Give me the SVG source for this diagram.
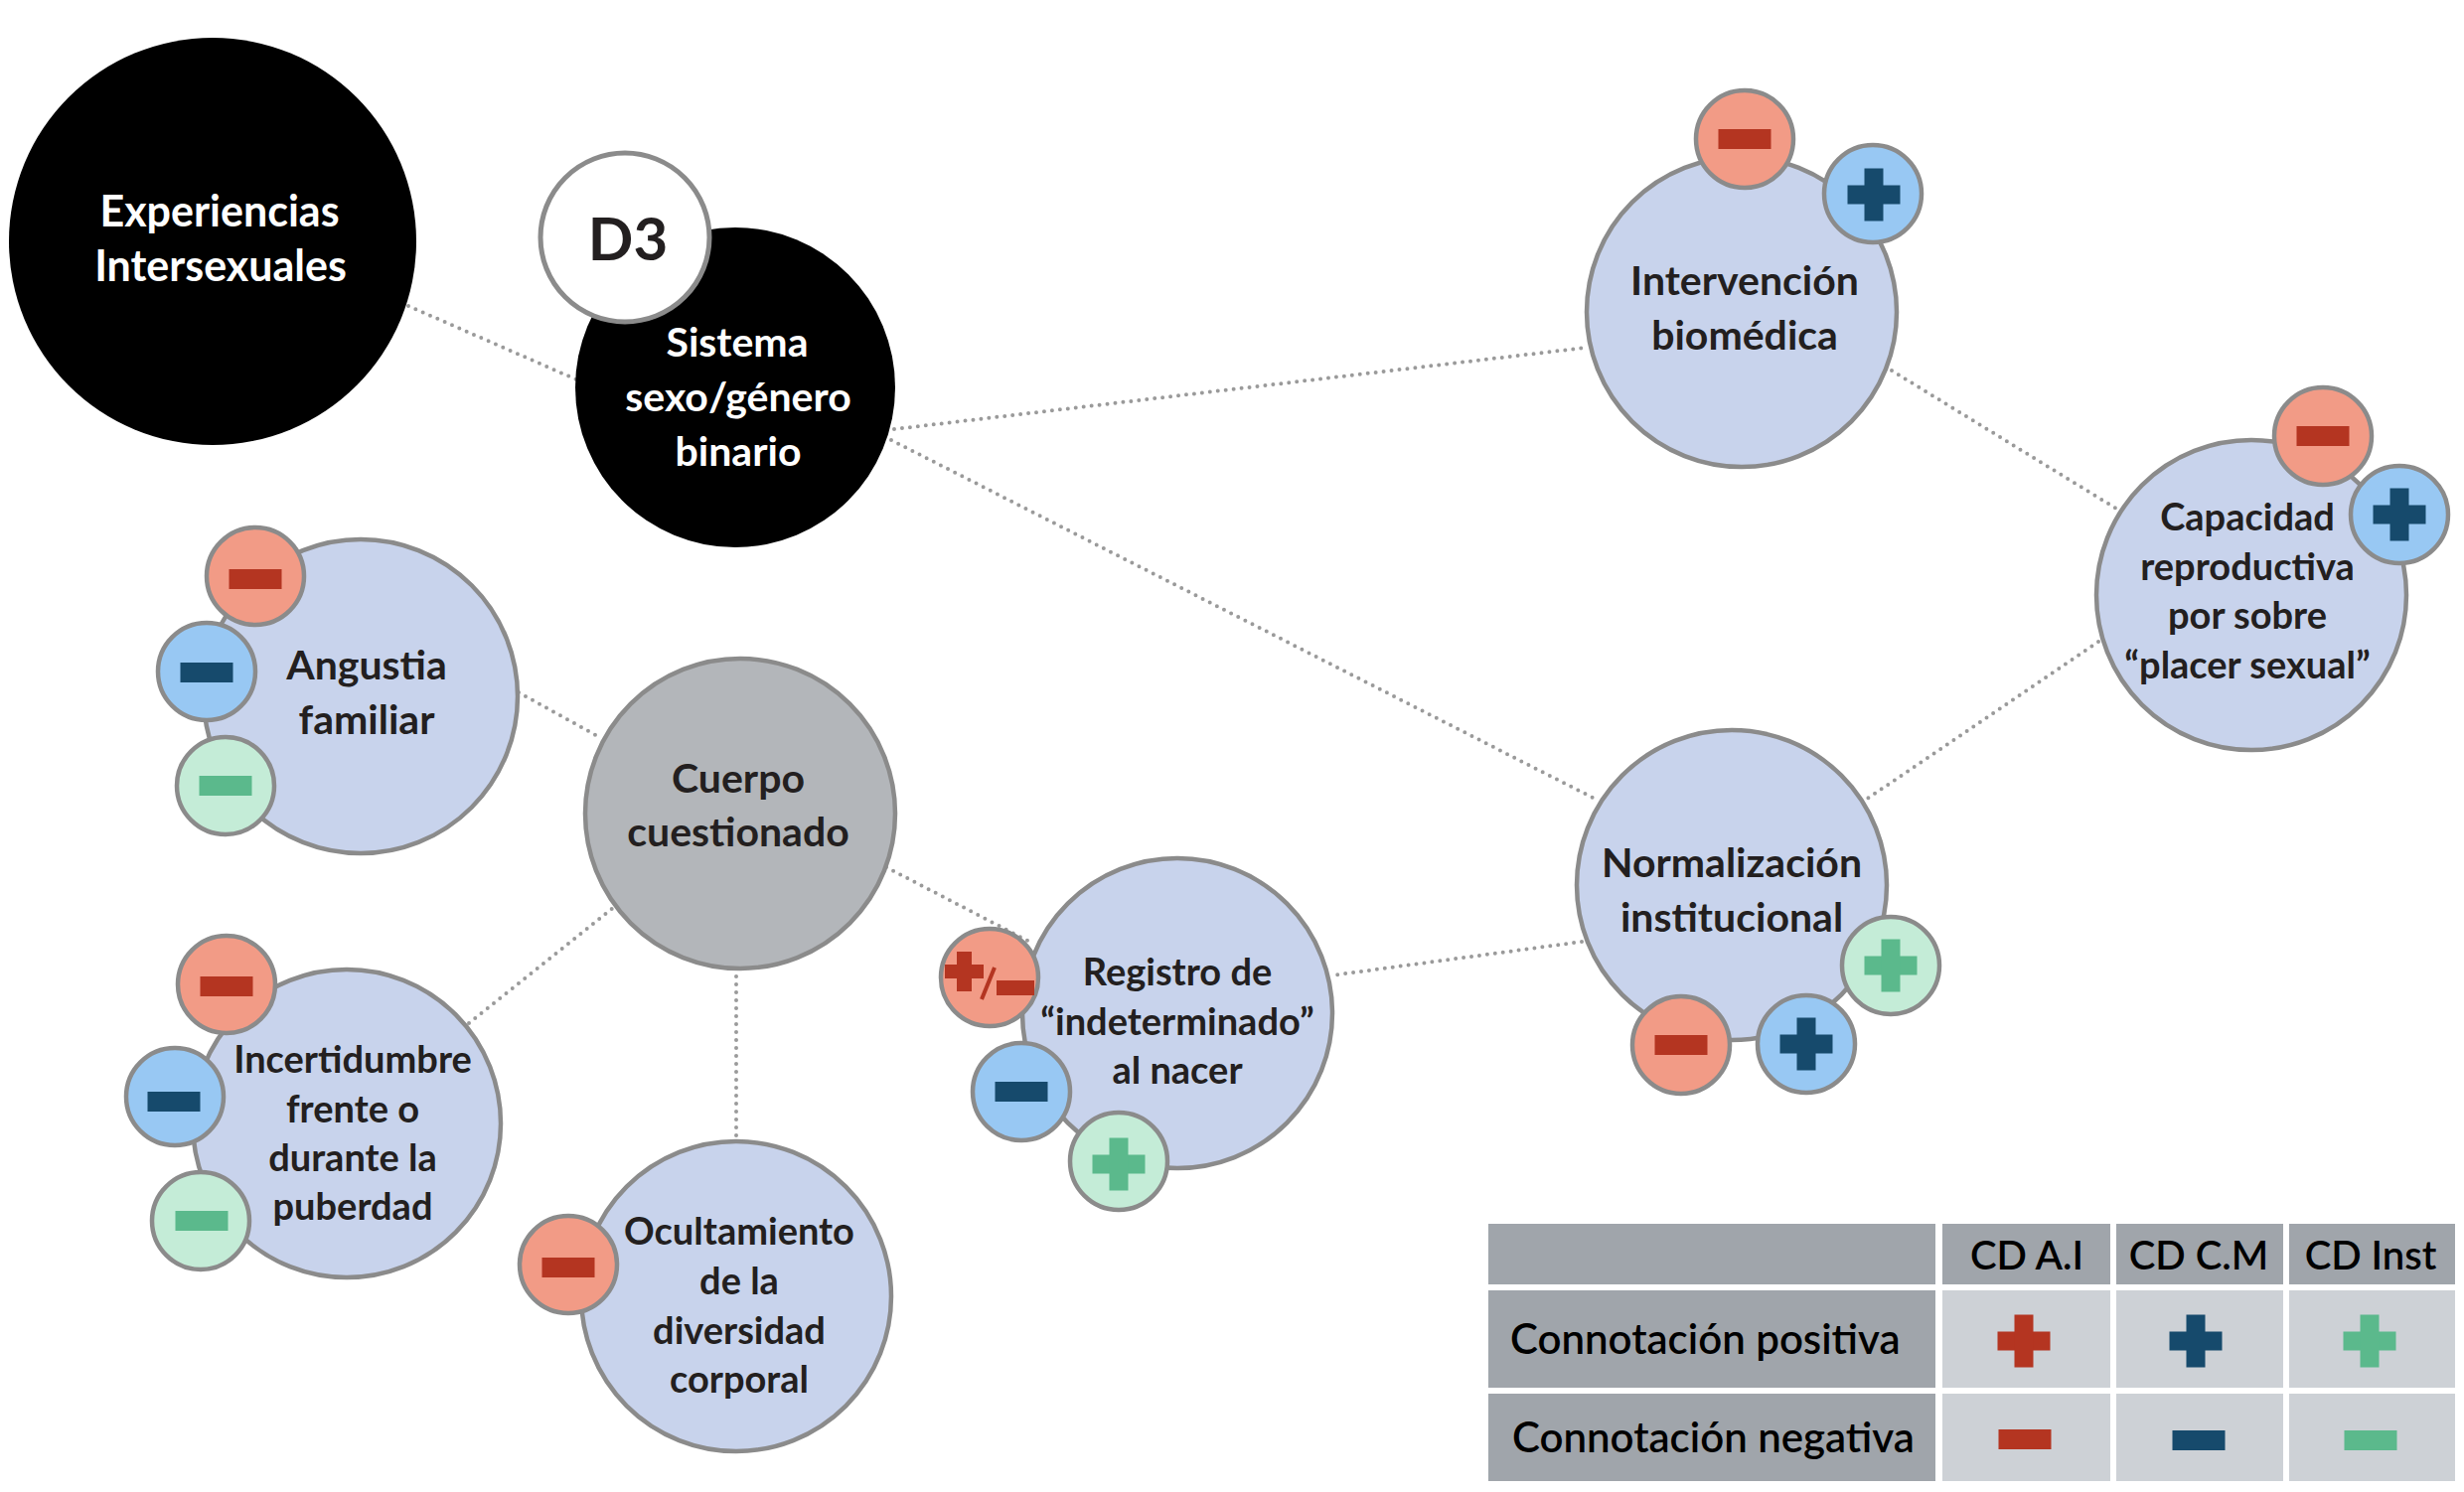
<svg xmlns="http://www.w3.org/2000/svg" width="2480" height="1502" viewBox="0 0 2480 1502">
<style>
.main{fill:#c8d3ec;stroke:#8b8b8b;stroke-width:4.5}
.gray{fill:#b3b6ba;stroke:#8b8b8b;stroke-width:4.5}
.blk{fill:#000}
.d3{fill:#fff;stroke:#8b8b8b;stroke-width:5}
.br{fill:#f29b86;stroke:#8b8b8b;stroke-width:4.5}
.bb{fill:#98c8f3;stroke:#8b8b8b;stroke-width:4.5}
.bg{fill:#c4ecd7;stroke:#8b8b8b;stroke-width:4.5}
.ir{fill:#b43521}
.ib{fill:#164a6c}
.ig{fill:#5bb98c}
.t{font-family:Lato,"Noto Sans",sans-serif;font-weight:700;fill:#231f20;text-anchor:middle}
.w{fill:#fff}
.s41{font-size:41px}
.s38{font-size:38px}
.lg{font-family:Lato,"Noto Sans",sans-serif;font-weight:600;font-size:42px;fill:#000}
.hd{fill:#a0a5ab}
.cl{fill:#cdd1d6}
.con line{stroke:#9a9a9a;stroke-width:4;stroke-dasharray:0 8;stroke-linecap:round;fill:none}
</style>
<defs>
<g id="minus"><rect x="-26.5" y="-10" width="53" height="20"/></g>
<g id="plus"><rect x="-26.5" y="-9.5" width="53" height="19"/><rect x="-9.5" y="-26.5" width="19" height="53"/></g>
</defs>
<rect width="2480" height="1502" fill="#fff"/>
<g id="connectors" class="con">
<line x1="411" y1="308" x2="580" y2="382"/>
<line x1="900" y1="432" x2="1596" y2="350"/>
<line x1="897" y1="443" x2="1607" y2="805"/>
<line x1="1904" y1="373" x2="2130" y2="512"/>
<line x1="2112" y1="646" x2="1878" y2="805"/>
<line x1="1592" y1="948" x2="1340" y2="982"/>
<line x1="892" y1="873" x2="1040" y2="950"/>
<line x1="522" y1="697" x2="605" y2="743"/>
<line x1="472" y1="1030" x2="617" y2="914"/>
<line x1="741" y1="975" x2="741" y2="1150"/>
</g>
<g id="experiencias">
<circle class="blk" cx="214" cy="243" r="205"/>
<text class="t w" font-size="43" x="221" y="228">Experiencias</text>
<text class="t w" font-size="43" x="222" y="283">Intersexuales</text>
</g>
<g id="sistema">
<circle class="blk" cx="740" cy="390" r="161"/>
<text class="t w s41" x="742" y="359">Sistema</text>
<text class="t w s41" x="743" y="414">sexo/género</text>
<text class="t w s41" x="743" y="469">binario</text>
</g>
<g id="d3">
<circle class="d3" cx="629" cy="239" r="85"/>
<text class="t" style="font-size:60px;font-weight:700" x="632" y="262">D3</text>
</g>
<g id="intervencion">
<circle class="main" cx="1753" cy="314" r="156"/>
<text class="t s41" x="1756" y="297">Intervención</text>
<text class="t s41" x="1756" y="352">biomédica</text>
<circle class="br" cx="1756" cy="140" r="49"/><use href="#minus" class="ir" x="1756" y="140"/>
<circle class="bb" cx="1885" cy="195" r="49"/><use href="#plus" class="ib" x="1886" y="196"/>
</g>
<g id="capacidad">
<circle class="main" cx="2266" cy="599" r="156"/>
<text class="t s38" x="2262" y="534">Capacidad</text>
<text class="t s38" x="2262" y="584">reproductiva</text>
<text class="t s38" x="2262" y="633">por sobre</text>
<text class="t s38" x="2262" y="683">“placer sexual”</text>
<circle class="br" cx="2338" cy="439" r="49"/><use href="#minus" class="ir" x="2338" y="439"/>
<circle class="bb" cx="2415" cy="518" r="49"/><use href="#plus" class="ib" x="2415" y="518"/>
</g>
<g id="normalizacion">
<circle class="main" cx="1743" cy="891" r="156"/>
<text class="t s41" x="1743" y="883">Normalización</text>
<text class="t s41" x="1743" y="938">institucional</text>
<circle class="bg" cx="1903" cy="972" r="49"/><use href="#plus" class="ig" x="1903" y="972"/>
<circle class="bb" cx="1818" cy="1051" r="49"/><use href="#plus" class="ib" x="1818" y="1051"/>
<circle class="br" cx="1692" cy="1052" r="49"/><use href="#minus" class="ir" x="1692" y="1052"/>
</g>
<g id="registro">
<circle class="main" cx="1185" cy="1020" r="156"/>
<text class="t s38" x="1185" y="992">Registro de</text>
<text class="t s38" x="1185" y="1042">“indeterminado”</text>
<text class="t s38" x="1185" y="1091">al nacer</text>
<circle class="br" cx="996" cy="984" r="49"/>
<g class="ir"><rect x="951" y="971" width="39" height="14"/><rect x="963" y="958" width="15" height="40"/><rect x="1003" y="987" width="38" height="15"/></g>
<line x1="988" y1="1006" x2="1001" y2="974" stroke="#b43521" stroke-width="4"/>
<circle class="bb" cx="1028" cy="1099" r="49"/><use href="#minus" class="ib" x="1028" y="1099"/>
<circle class="bg" cx="1126" cy="1169" r="49"/><use href="#plus" class="ig" x="1126" y="1172"/>
</g>
<g id="cuerpo">
<circle class="gray" cx="745" cy="819" r="156"/>
<text class="t s41" x="743" y="798">Cuerpo</text>
<text class="t s41" x="743" y="852">cuestionado</text>
</g>
<g id="angustia">
<circle class="main" cx="363" cy="701" r="158"/>
<text class="t s41" x="369" y="684">Angustia</text>
<text class="t s41" x="369" y="739">familiar</text>
<circle class="br" cx="257" cy="580" r="49"/><use href="#minus" class="ir" x="257" y="583"/>
<circle class="bb" cx="208" cy="676" r="49"/><use href="#minus" class="ib" x="208" y="677"/>
<circle class="bg" cx="227" cy="791" r="49"/><use href="#minus" class="ig" x="227" y="791"/>
</g>
<g id="incertidumbre">
<circle class="main" cx="349" cy="1131" r="155"/>
<text class="t s38" x="355" y="1080">Incertidumbre</text>
<text class="t s38" x="355" y="1130">frente o</text>
<text class="t s38" x="355" y="1179">durante la</text>
<text class="t s38" x="355" y="1228">puberdad</text>
<circle class="br" cx="228" cy="991" r="49"/><use href="#minus" class="ir" x="228" y="993"/>
<circle class="bb" cx="176" cy="1104" r="49"/><use href="#minus" class="ib" x="175" y="1109"/>
<circle class="bg" cx="202" cy="1229" r="49"/><use href="#minus" class="ig" x="203" y="1229"/>
</g>
<g id="ocultamiento">
<circle class="main" cx="741" cy="1305" r="156"/>
<text class="t s38" x="744" y="1253">Ocultamiento</text>
<text class="t s38" x="744" y="1303">de la</text>
<text class="t s38" x="744" y="1353">diversidad</text>
<text class="t s38" x="744" y="1402">corporal</text>
<circle class="br" cx="572" cy="1273" r="49"/><use href="#minus" class="ir" x="572" y="1276"/>
</g>
<g id="legend">
<rect class="hd" x="1498" y="1232" width="450" height="61"/>
<rect class="hd" x="1955" y="1232" width="169" height="61"/>
<rect class="hd" x="2130" y="1232" width="168" height="61"/>
<rect class="hd" x="2304" y="1232" width="167" height="61"/>
<rect class="hd" x="1498" y="1299" width="450" height="98"/>
<rect class="cl" x="1955" y="1299" width="169" height="98"/>
<rect class="cl" x="2130" y="1299" width="168" height="98"/>
<rect class="cl" x="2304" y="1299" width="167" height="98"/>
<rect class="hd" x="1498" y="1403" width="450" height="88"/>
<rect class="cl" x="1955" y="1403" width="169" height="88"/>
<rect class="cl" x="2130" y="1403" width="168" height="88"/>
<rect class="cl" x="2304" y="1403" width="167" height="88"/>
<text class="lg" x="2040" y="1278" text-anchor="middle" style="font-size:40px">CD A.I</text>
<text class="lg" x="2213" y="1278" text-anchor="middle" style="font-size:40px">CD C.M</text>
<text class="lg" x="2386" y="1278" text-anchor="middle" style="font-size:40px">CD Inst</text>
<text class="lg" x="1520" y="1363">Connotación positiva</text>
<text class="lg" x="1522" y="1462">Connotación negativa</text>
<use href="#plus" class="ir" x="2037" y="1350"/>
<use href="#plus" class="ib" x="2210" y="1350"/>
<use href="#plus" class="ig" x="2385" y="1350"/>
<use href="#minus" class="ir" x="2038" y="1449"/>
<use href="#minus" class="ib" x="2213" y="1450"/>
<use href="#minus" class="ig" x="2386" y="1450"/>
</g>
</svg>
